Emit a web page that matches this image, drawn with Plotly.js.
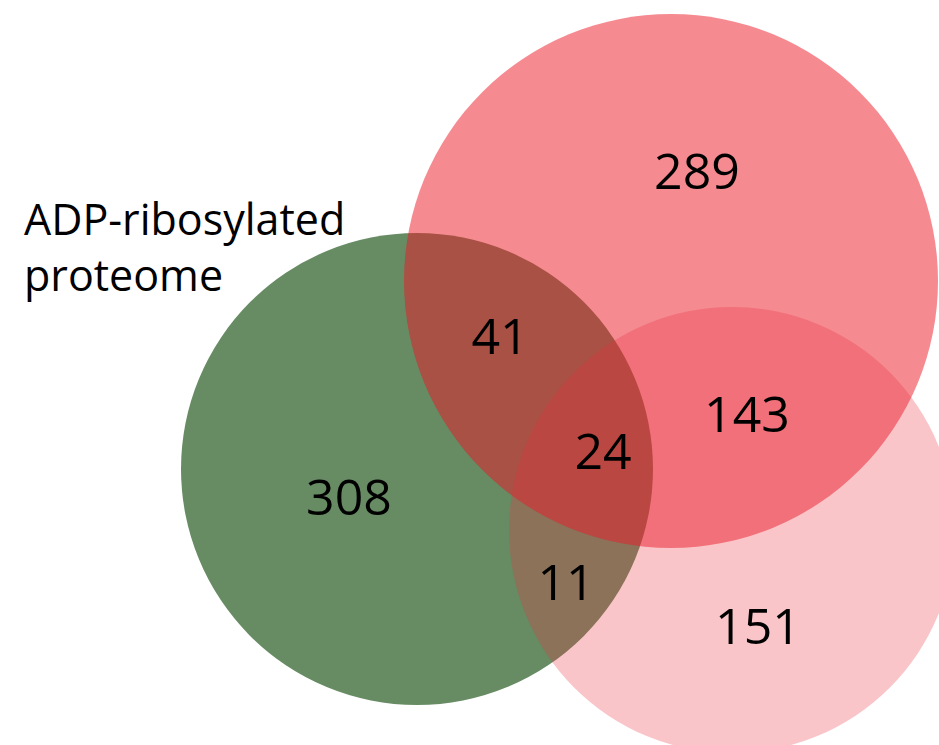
<!DOCTYPE html>
<html>
<head>
<meta charset="utf-8">
<script src="https://cdn.plot.ly/plotly-3.0.1.min.js"></script>
<style>html,body{margin:0;padding:0;background:#fff;}#chart{width:939px;height:745px;}</style>
</head>
<body>
<div id="chart"></div>
<script>
// ---- data ----
const setNames = ["ADP-ribosylated proteome", "Set B", "Set C"];
const regionKeys = ["A only", "B only", "C only", "A∩B", "B∩C", "A∩C", "A∩B∩C"];
const regionCounts = [308, 289, 151, 41, 143, 11, 24];

// ---- layout geometry (pixel-like coordinates on the axes) ----
const circleCx = [417, 671, 732];
const circleCy = [469, 281, 530];
const circleR  = [236, 267, 223];
const circleFill = ["rgb(103,140,100)", "rgba(235,21,35,0.5)", "rgba(233,48,62,0.28)"];
const labelX = [349, 697, 758, 500, 747, 566, 603];
const labelY = [502, 176, 631, 341, 419, 587, 456];

const shapes = circleCx.map((cx, i) => ({
  type: "circle", xref: "x", yref: "y",
  x0: cx - circleR[i], x1: cx + circleR[i],
  y0: circleCy[i] - circleR[i], y1: circleCy[i] + circleR[i],
  fillcolor: circleFill[i], line: {width: 0}, layer: "below"
}));

const trace = {
  type: "scatter", mode: "text",
  x: labelX, y: labelY,
  text: regionCounts.map(String),
  textposition: "middle center",
  textfont: {family: "Open Sans, Noto Sans, sans-serif", size: 50, color: "#000"},
  hoverinfo: "skip", showlegend: false, cliponaxis: false
};

const layout = {
  width: 939, height: 745,
  margin: {l: 0, r: 0, t: 0, b: 0},
  paper_bgcolor: "#fff", plot_bgcolor: "rgba(0,0,0,0)",
  xaxis: {range: [0, 939], visible: false, fixedrange: true},
  yaxis: {range: [745, 0], visible: false, fixedrange: true},
  shapes: shapes,
  annotations: [{
    xref: "x", yref: "y", x: 22, y: 187, xanchor: "left", yanchor: "top",
    align: "left", showarrow: false,
    text: "ADP-ribosylated<br>proteome",
    font: {family: "Open Sans, Noto Sans, sans-serif", size: 43, color: "#000"}
  }]
};

Plotly.newPlot("chart", [trace], layout, {staticPlot: true, displayModeBar: false});
</script>
</body>
</html>
